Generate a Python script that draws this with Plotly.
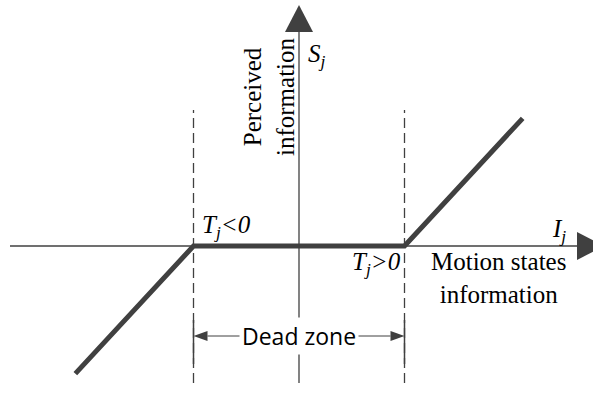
import plotly.graph_objects as go

# ---- data (in units of the dead-zone threshold) ----
input_info = [-2.12, -1.0, 1.0, 2.12]        # motion states information I_j
perceived_info = [-1.21, 0.0, 0.0, 1.21]     # perceived information S_j
dead_zone_bounds = [-1.0, 1.0]               # thresholds T_j<0, T_j>0

# ---- pixel <-> data helpers for layout geometry ----
W, H = 593, 410
X0, Y0, S = 299, 246, 105.5


def dx(p):
    return (p - X0) / S


def dy(p):
    return (Y0 - p) / S


def px_len(p):
    return p / S


ink = "#404040"
serif = "Liberation Serif, Times New Roman, serif"

fig = go.Figure()

# main dead-zone characteristic
fig.add_trace(go.Scatter(
    x=input_info, y=perceived_info, mode="lines",
    line=dict(color=ink, width=5), hoverinfo="skip", showlegend=False,
))

shapes = []
# horizontal axis with arrow
shapes.append(dict(type="line", x0=dx(10), x1=dx(580), y0=0, y1=0,
                   line=dict(color=ink, width=1.3)))
bx = dx(577)
shapes.append(dict(type="path",
                   path=f"M {bx} {px_len(14)} L {dx(604)} 0 L {bx} {-px_len(14)} Z",
                   fillcolor=ink, line=dict(color=ink, width=0)))
# vertical axis with arrow
shapes.append(dict(type="line", x0=0, x1=0, y0=dy(383), y1=dy(30),
                   line=dict(color=ink, width=1.3)))
by = dy(32)
shapes.append(dict(type="path",
                   path=f"M {-px_len(14)} {by} L 0 {dy(5)} L {px_len(14)} {by} Z",
                   fillcolor=ink, line=dict(color=ink, width=0)))

# dashed threshold lines and dimension ticks
for b in dead_zone_bounds:
    shapes.append(dict(type="line", x0=b, x1=b, y0=dy(383), y1=dy(110),
                       line=dict(color=ink, width=1.3, dash="10px,5px")))
    shapes.append(dict(type="line", x0=b, x1=b, y0=dy(364), y1=dy(320),
                       line=dict(color=ink, width=1.5)))

# dead zone dimension arrows
ay = dy(336)
for b, tail in zip(dead_zone_bounds, [dx(242), dx(355)]):
    sgn = 1 if b < 0 else -1
    base = b + sgn * px_len(14)
    shapes.append(dict(type="line", x0=base, x1=tail, y0=ay, y1=ay,
                       line=dict(color=ink, width=1)))
    shapes.append(dict(type="path",
                       path=f"M {b} {ay} L {base} {ay + px_len(5)} L {base} {ay - px_len(5)} Z",
                       fillcolor=ink, line=dict(color=ink, width=0)))

annotations = [
    dict(x=dx(306), y=dy(55), text="<i>S</i><sub><i>j</i></sub>", xanchor="left",
         yanchor="middle", font=dict(family=serif, size=25, color="black")),
    dict(x=dx(269), y=dy(97), text="Perceived<br>information", textangle=-90,
         xanchor="center", yanchor="middle",
         font=dict(family=serif, size=25, color="black")),
    dict(x=dx(559), y=dy(230), text="<i>I</i><sub><i>j</i></sub>", xanchor="center",
         yanchor="middle", font=dict(family=serif, size=25, color="black")),
    dict(x=dx(498), y=dy(278), text="Motion states<br>information", xanchor="center",
         yanchor="middle", font=dict(family=serif, size=25, color="black")),
    dict(x=dx(226), y=dy(226), text="<i>T</i><sub><i>j</i></sub><i>&lt;0</i>",
         xanchor="center", yanchor="middle",
         font=dict(family=serif, size=25, color="black")),
    dict(x=dx(376), y=dy(263), text="<i>T</i><sub><i>j</i></sub><i>&gt;0</i>",
         xanchor="center", yanchor="middle",
         font=dict(family=serif, size=25, color="black")),
    dict(x=0, y=ay, text="Dead zone", xanchor="center", yanchor="middle",
         bgcolor="white", borderpad=2,
         font=dict(family="Open Sans", size=23, color="black")),
]
for a in annotations:
    a.update(xref="x", yref="y", showarrow=False)

fig.update_layout(
    width=W, height=H, margin=dict(l=0, r=0, t=0, b=0),
    plot_bgcolor="white", paper_bgcolor="white",
    xaxis=dict(range=[dx(0), dx(W)], visible=False, fixedrange=True),
    yaxis=dict(range=[dy(H), dy(0)], visible=False, fixedrange=True),
    shapes=shapes, annotations=annotations,
)

fig.write_html("out.html", config={"displayModeBar": False},
               post_script="document.body.style.margin='0';"
                           "document.body.style.overflow='hidden';")
